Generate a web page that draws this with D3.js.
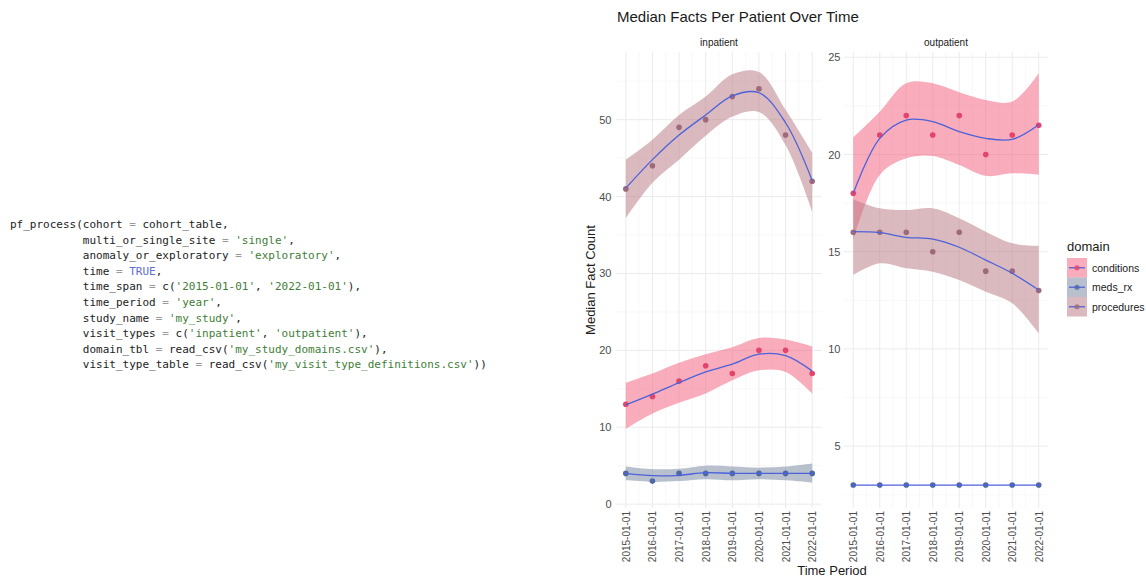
<!DOCTYPE html>
<html>
<head>
<meta charset="utf-8">
<script src="https://cdn.jsdelivr.net/npm/d3@7"></script>
<style>
  body { margin: 0; background: #fff; }
  svg { display: block; }
</style>
</head>
<body>
<script>
// code shown on the left
const codeLines = [
  "pf_process(cohort = cohort_table,",
  "           multi_or_single_site = 'single',",
  "           anomaly_or_exploratory = 'exploratory',",
  "           time = TRUE,",
  "           time_span = c('2015-01-01', '2022-01-01'),",
  "           time_period = 'year',",
  "           study_name = 'my_study',",
  "           visit_types = c('inpatient', 'outpatient'),",
  "           domain_tbl = read_csv('my_study_domains.csv'),",
  "           visit_type_table = read_csv('my_visit_type_definitions.csv'))"
];

const years = [2015, 2016, 2017, 2018, 2019, 2020, 2021, 2022];
const tickLabels = ["2015-01-01", "2016-01-01", "2017-01-01", "2018-01-01",
                    "2019-01-01", "2020-01-01", "2021-01-01", "2022-01-01"];
const domains = ["conditions", "meds_rx", "procedures"];
const panels = ["inpatient", "outpatient"];

// inpatient
const inCond = [13, 14, 16, 18, 17, 20, 20, 17];
const inCondFit = [12.9, 14.3, 15.8, 17.2, 18.2, 19.5, 19.3, 17.3];
const inCondHi = [15.8, 17.0, 18.4, 19.5, 20.4, 21.6, 21.4, 20.5];
const inCondLo = [9.8, 11.8, 13.2, 14.4, 16.1, 17.4, 17.2, 14.4];

const inMeds = [4, 3, 4, 4, 4, 4, 4, 4];
const inMedsFit = [4.0, 3.7, 3.75, 4.1, 4.0, 4.0, 4.0, 4.0];
const inMedsHi = [4.9, 4.55, 4.6, 5.0, 4.9, 4.75, 4.9, 5.3];
const inMedsLo = [3.1, 2.9, 3.0, 3.25, 3.1, 3.25, 3.1, 2.8];

const inProc = [41, 44, 49, 50, 53, 54, 48, 42];
const inProcFit = [41.1, 44.8, 48.0, 50.6, 53.1, 53.5, 49.6, 42.1];
const inProcHi = [44.8, 47.4, 50.6, 53.0, 55.9, 56.2, 51.3, 45.7];
const inProcLo = [37.2, 41.8, 44.8, 47.9, 50.4, 51.0, 46.7, 38.0];

// outpatient
const outCond = [18, 21, 22, 21, 22, 20, 21, 21.5];
const outCondFit = [18.0, 20.83, 21.77, 21.69, 21.17, 20.83, 20.78, 21.53];
const outCondHi = [20.88, 22.2, 23.66, 23.66, 23.2, 22.8, 22.72, 24.18];
const outCondLo = [15.6, 18.95, 19.8, 19.92, 19.46, 18.9, 19.03, 18.95];

const outMeds = [3, 3, 3, 3, 3, 3, 3, 3];
const outMedsFit = [3, 3, 3, 3, 3, 3, 3, 3];
const outMedsHi = [3, 3, 3, 3, 3, 3, 3, 3];
const outMedsLo = [3, 3, 3, 3, 3, 3, 3, 3];

const outProc = [16, 16, 16, 15, 16, 14, 14, 13];
const outProcFit = [16.03, 15.98, 15.74, 15.65, 15.23, 14.57, 13.89, 13.03];
const outProcHi = [17.7, 17.23, 17.14, 17.23, 16.72, 16.03, 15.43, 15.3];
const outProcLo = [13.8, 14.4, 14.15, 13.97, 13.54, 12.94, 12.35, 10.8];

const inTicks = [0, 10, 20, 30, 40, 50];
const inMinor = [5, 15, 25, 35, 45, 55];
const outTicks = [5, 10, 15, 20, 25];
const outMinor = [2.5, 7.5, 12.5, 17.5, 22.5];
const minorYears = [2015.5, 2016.5, 2017.5, 2018.5, 2019.5, 2020.5, 2021.5];

const ribbonFill = { conditions: "#f4607f", meds_rx: "#7686a2", procedures: "#ba7a84" };
const pointFill = { conditions: "#e2446b", meds_rx: "#4e69a6", procedures: "#9d6a7c" };
const fitColor = "#4c62da";

const series = {
  inpatient: {
    conditions: [inCond, inCondFit, inCondHi, inCondLo],
    meds_rx: [inMeds, inMedsFit, inMedsHi, inMedsLo],
    procedures: [inProc, inProcFit, inProcHi, inProcLo]
  },
  outpatient: {
    conditions: [outCond, outCondFit, outCondHi, outCondLo],
    meds_rx: [outMeds, outMedsFit, outMedsHi, outMedsLo],
    procedures: [outProc, outProcFit, outProcHi, outProcLo]
  }
};

const W = 1146, H = 578;
const panelTop = 52, panelBottom = 508;
const font = "'Liberation Sans', Arial, Helvetica, sans-serif";

const svg = d3.select("body").append("svg")
    .attr("width", W)
    .attr("height", H)
    .style("font-family", font);

// ---- code block
const code = svg.append("g")
    .style("font-family", "'DejaVu Sans Mono', monospace")
    .style("font-size", "11px");

codeLines.forEach(function (line, i) {
  const t = code.append("text")
      .attr("x", 10)
      .attr("y", 228 + i * 15.6)
      .style("white-space", "pre")
      .attr("xml:space", "preserve");
  line.split(/('[^']*'|TRUE|=)/).forEach(function (tok) {
    if (tok === "") return;
    let col = "#222";
    if (tok === "=") col = "#999";
    else if (tok === "TRUE") col = "#5b6ed2";
    else if (tok[0] === "'") col = "#3f7d38";
    t.append("tspan").attr("fill", col).text(tok);
  });
});

// ---- scales
const x = {
  inpatient: d3.scaleLinear().domain([2014.65, 2022.35]).range([616.5, 821.5]),
  outpatient: d3.scaleLinear().domain([2014.65, 2022.35]).range([844, 1048])
};
const y = {
  inpatient: d3.scaleLinear().domain([-0.5, 58.8]).range([panelBottom, panelTop]),
  outpatient: d3.scaleLinear().domain([1.82, 25.27]).range([panelBottom, panelTop])
};
const majors = { inpatient: inTicks, outpatient: outTicks };
const minors = { inpatient: inMinor, outpatient: outMinor };
const axisPad = { inpatient: 5, outpatient: 3.5 };

// title
svg.append("text")
    .attr("x", 617)
    .attr("y", 22)
    .style("font-size", "15px")
    .attr("fill", "#1a1a1a")
    .text("Median Facts Per Patient Over Time");

panels.forEach(function (p) {
  const xs = x[p], ys = y[p];
  const g = svg.append("g");
  const [x0, x1] = xs.range();

  svg.append("clipPath").attr("id", "clip-" + p)
    .append("rect")
    .attr("x", x0).attr("y", panelTop)
    .attr("width", x1 - x0).attr("height", panelBottom - panelTop);

  // grid
  g.selectAll(".ymin").data(minors[p]).join("line")
      .attr("x1", x0).attr("x2", x1)
      .attr("y1", d => ys(d)).attr("y2", d => ys(d))
      .attr("stroke", "#f3f3f3").attr("stroke-width", 0.6);
  g.selectAll(".xmin").data(minorYears).join("line")
      .attr("y1", panelTop).attr("y2", panelBottom)
      .attr("x1", d => xs(d)).attr("x2", d => xs(d))
      .attr("stroke", "#f3f3f3").attr("stroke-width", 0.6);
  g.selectAll(".ymaj").data(majors[p]).join("line")
      .attr("x1", x0).attr("x2", x1)
      .attr("y1", d => ys(d)).attr("y2", d => ys(d))
      .attr("stroke", "#ebebeb").attr("stroke-width", 1);
  g.selectAll(".xmaj").data(years).join("line")
      .attr("y1", panelTop).attr("y2", panelBottom)
      .attr("x1", d => xs(d)).attr("x2", d => xs(d))
      .attr("stroke", "#ebebeb").attr("stroke-width", 1);

  // strip label
  svg.append("text")
      .attr("x", (x0 + x1) / 2)
      .attr("y", 46)
      .attr("text-anchor", "middle")
      .style("font-size", "10px")
      .attr("fill", "#1a1a1a")
      .text(p);

  const plot = svg.append("g").attr("clip-path", "url(#clip-" + p + ")");

  const area = d3.area()
      .x((d, i) => xs(years[i]))
      .y0(d => ys(d[1]))
      .y1(d => ys(d[0]))
      .curve(d3.curveCatmullRom.alpha(0.5));
  const line = d3.line()
      .x((d, i) => xs(years[i]))
      .y(d => ys(d))
      .curve(d3.curveCatmullRom.alpha(0.5));

  domains.forEach(function (dm) {
    const s = series[p][dm];
    const band = s[2].map((hi, i) => [hi, s[3][i]]);
    plot.append("path")
        .attr("d", area(band))
        .attr("fill", ribbonFill[dm])
        .attr("fill-opacity", 0.52);
  });
  domains.forEach(function (dm) {
    const s = series[p][dm];
    plot.selectAll(null).data(s[0]).join("circle")
        .attr("cx", (d, i) => xs(years[i]))
        .attr("cy", d => ys(d))
        .attr("r", 2.8)
        .attr("fill", pointFill[dm]);
  });
  domains.forEach(function (dm) {
    const s = series[p][dm];
    plot.append("path")
        .attr("d", line(s[1]))
        .attr("fill", "none")
        .attr("stroke", fitColor)
        .attr("stroke-width", 1.3);
  });

  // axes
  const ya = svg.append("g")
      .attr("transform", "translate(" + x0 + ",0)")
      .call(d3.axisLeft(ys).tickValues(majors[p]).tickSize(0).tickPadding(axisPad[p]));
  ya.select(".domain").remove();
  ya.selectAll("text")
      .attr("fill", "#4d4d4d")
      .style("font-size", "11px")
      .style("font-family", font);

  const xa = svg.append("g")
      .attr("transform", "translate(0," + panelBottom + ")")
      .call(d3.axisBottom(xs).tickValues(years).tickFormat((d, i) => tickLabels[i]).tickSize(0));
  xa.select(".domain").remove();
  xa.selectAll("text")
      .attr("transform", "rotate(-90)")
      .attr("x", -3)
      .attr("y", 0)
      .attr("dy", "0.35em")
      .style("text-anchor", "end")
      .attr("fill", "#4d4d4d")
      .style("font-size", "10px")
      .style("font-family", font);
});

// axis titles
svg.append("text")
    .attr("transform", "translate(595,280) rotate(-90)")
    .attr("text-anchor", "middle")
    .style("font-size", "13px")
    .attr("fill", "#1a1a1a")
    .text("Median Fact Count");

svg.append("text")
    .attr("x", 832)
    .attr("y", 575)
    .attr("text-anchor", "middle")
    .style("font-size", "13px")
    .attr("fill", "#1a1a1a")
    .text("Time Period");

// legend
const legend = svg.append("g").attr("transform", "translate(1067,0)");
legend.append("text")
    .attr("x", 0).attr("y", 251)
    .style("font-size", "13px")
    .attr("fill", "#1a1a1a")
    .text("domain");

const keys = legend.selectAll(".key").data(domains).join("g")
    .attr("transform", (d, i) => "translate(0," + (258 + i * 19.5) + ")");
keys.append("rect")
    .attr("width", 20).attr("height", 19.5)
    .attr("fill", d => ribbonFill[d])
    .attr("fill-opacity", 0.52);
keys.append("line")
    .attr("x1", 2).attr("x2", 18)
    .attr("y1", 9.75).attr("y2", 9.75)
    .attr("stroke", fitColor).attr("stroke-width", 1.3);
keys.append("circle")
    .attr("cx", 10).attr("cy", 9.75).attr("r", 2.6)
    .attr("fill", d => pointFill[d])
    .attr("fill-opacity", 0.8);
keys.append("text")
    .attr("x", 25).attr("y", 13.5)
    .style("font-size", "10.5px")
    .attr("fill", "#1a1a1a")
    .text(d => d);
</script>
</body>
</html>
